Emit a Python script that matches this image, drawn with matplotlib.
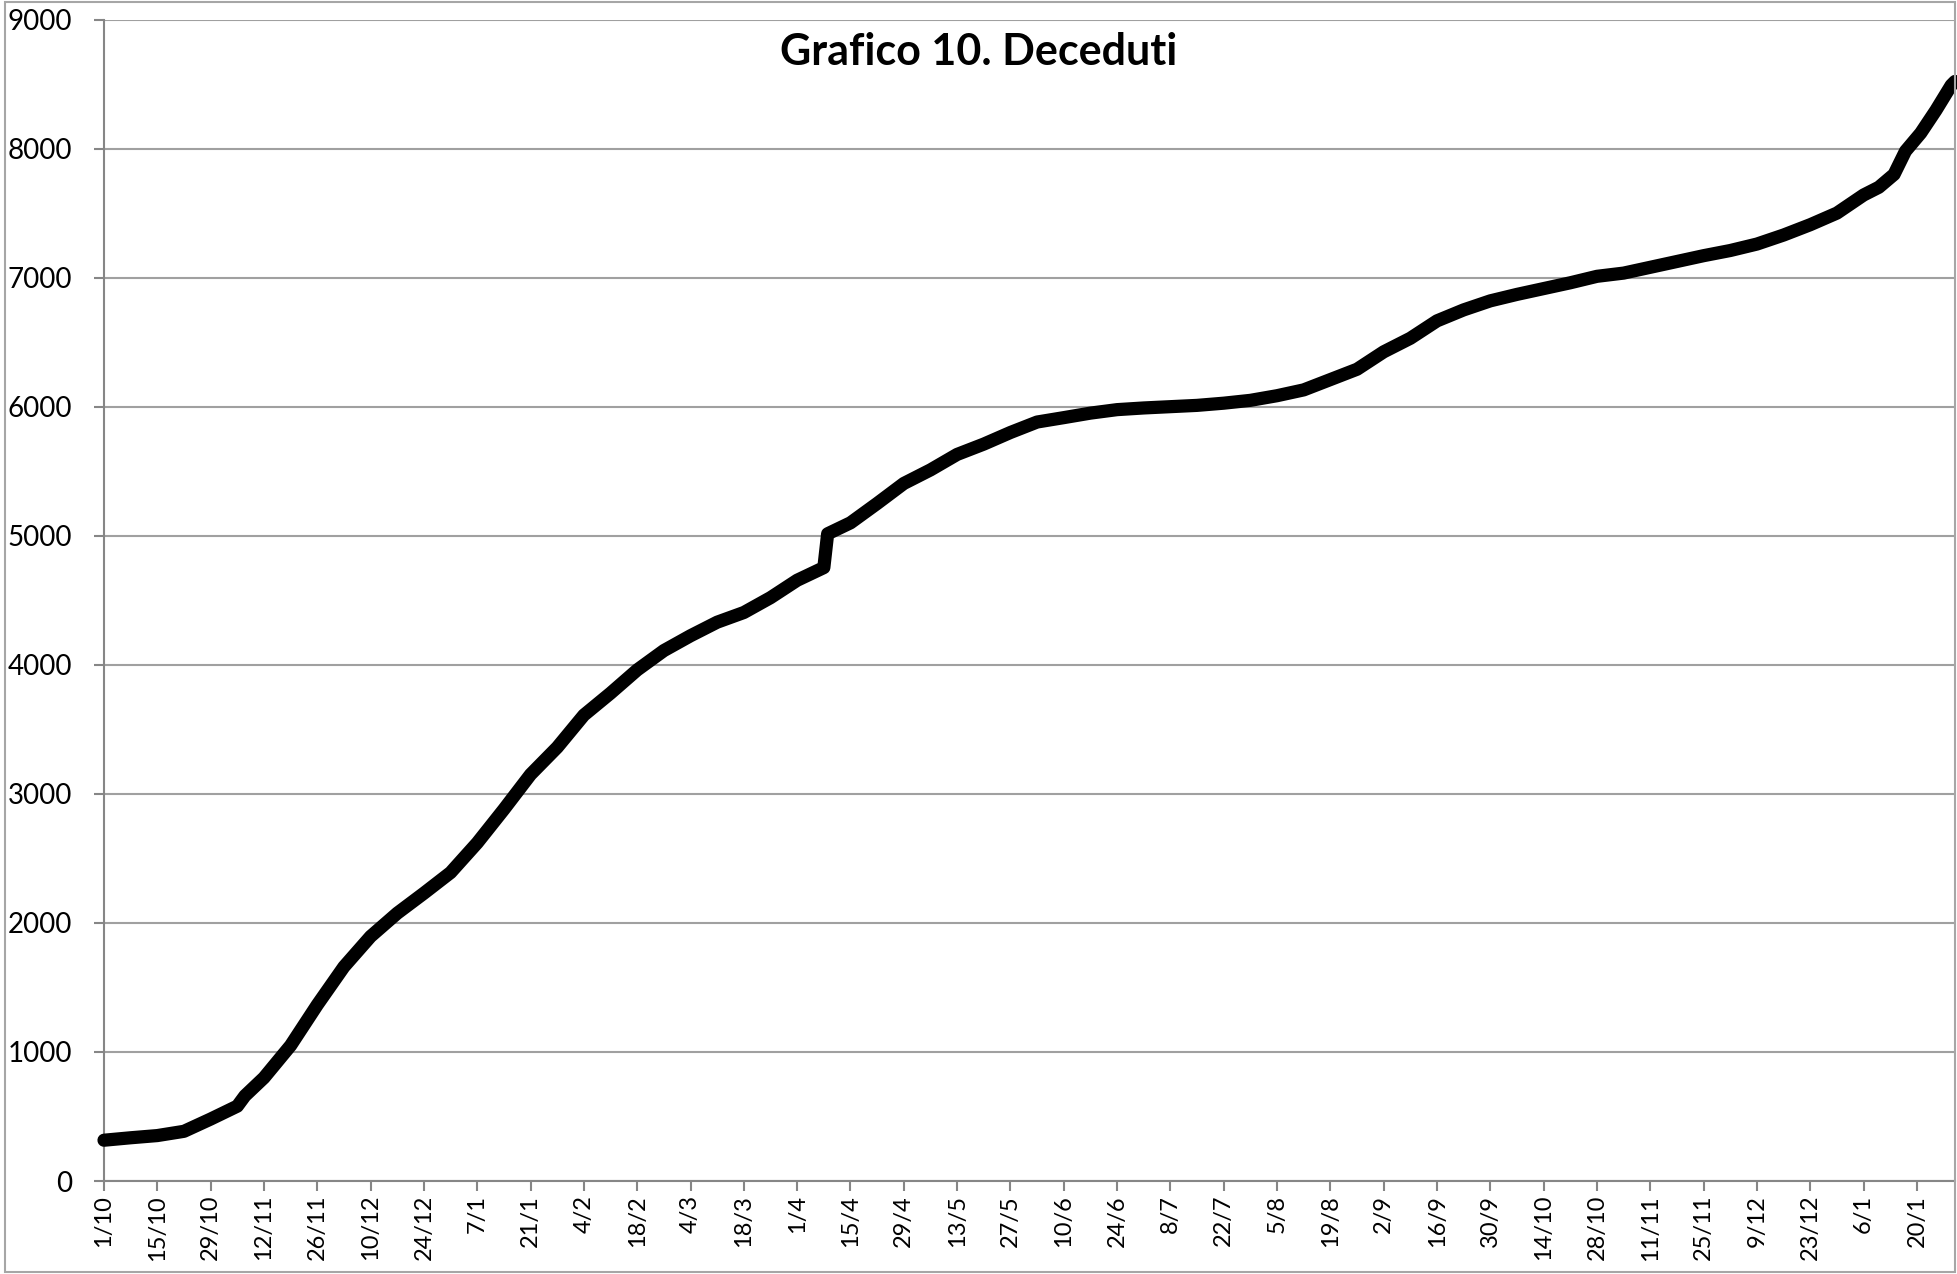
import pandas as pd
import matplotlib
matplotlib.use("Agg")
import matplotlib.pyplot as plt
from matplotlib.patches import Rectangle

plt.rcParams['font.family'] = ['Lato', 'DejaVu Sans']

# Deceduti cumulativi (1/10/2020 - 30/1/2022)
dates = [
    "2020-10-01", "2020-10-08", "2020-10-15", "2020-10-22", "2020-10-29",
    "2020-11-05", "2020-11-07", "2020-11-12", "2020-11-19", "2020-11-26",
    "2020-12-03", "2020-12-10", "2020-12-17", "2020-12-24", "2020-12-31",
    "2021-01-07", "2021-01-14", "2021-01-21", "2021-01-28", "2021-02-04",
    "2021-02-11", "2021-02-18", "2021-02-25", "2021-03-04", "2021-03-11",
    "2021-03-18", "2021-03-25", "2021-04-01", "2021-04-08", "2021-04-09",
    "2021-04-15", "2021-04-22", "2021-04-29", "2021-05-06", "2021-05-13",
    "2021-05-20", "2021-05-27", "2021-06-03", "2021-06-10", "2021-06-17",
    "2021-06-24", "2021-07-01", "2021-07-08", "2021-07-15", "2021-07-22",
    "2021-07-29", "2021-08-05", "2021-08-12", "2021-08-19", "2021-08-26",
    "2021-09-02", "2021-09-09", "2021-09-16", "2021-09-23", "2021-09-30",
    "2021-10-07", "2021-10-14", "2021-10-21", "2021-10-28", "2021-11-04",
    "2021-11-11", "2021-11-18", "2021-11-25", "2021-12-02", "2021-12-09",
    "2021-12-16", "2021-12-23", "2021-12-30", "2022-01-06", "2022-01-10",
    "2022-01-14", "2022-01-17", "2022-01-21", "2022-01-25", "2022-01-29",
    "2022-01-30",
]
deceduti = [
    316, 335, 352, 385, 480,
    580, 660, 800, 1050, 1365,
    1660, 1895, 2075, 2230, 2390,
    2620, 2880, 3150, 3360, 3610,
    3780, 3960, 4110, 4225, 4330,
    4405, 4520, 4655, 4753, 5015,
    5100, 5250, 5405, 5510, 5630,
    5710, 5800, 5881, 5915, 5950,
    5977, 5990, 6000, 6010, 6027,
    6049, 6085, 6130, 6210, 6290,
    6425, 6530, 6665, 6750, 6820,
    6870, 6915, 6960, 7010, 7035,
    7080, 7125, 7170, 7210, 7260,
    7330, 7410, 7500, 7640, 7700,
    7800, 7980, 8120, 8297, 8490,
    8520,
]
y_ticks = [0, 1000, 2000, 3000, 4000, 5000, 6000, 7000, 8000, 9000]
title = "Grafico 10. Deceduti"

x = pd.to_datetime(dates)
grey = "#a0a0a0"

fig = plt.figure(figsize=(19.57, 12.74), dpi=100)
ax = fig.add_axes([104 / 1957, 1 - 1181 / 1274, (1955 - 104) / 1957, (1181 - 19.5) / 1274])

ax.plot(x, deceduti, color="black", lw=9.5, solid_joinstyle="round",
        solid_capstyle="round", zorder=3, clip_on=False)

# asse x: etichette ogni 14 giorni
x_ticks = pd.date_range(x[0], x[-1], freq="14D")
ax.set_xticks(x_ticks)
ax.set_xticklabels([f"{d.day}/{d.month}" for d in x_ticks], rotation=90, fontsize=17)
ax.set_xlim(x[0], x[-1])

ax.set_ylim(0, 9000)
ax.set_yticks(y_ticks)
ax.set_yticklabels([str(v) for v in y_ticks], fontsize=20)

ax.grid(axis="y", color=grey, lw=1.5)
ax.set_axisbelow(True)
for s in ["top", "right"]:
    ax.spines[s].set_visible(False)
for s in ["left", "bottom"]:
    ax.spines[s].set_color("#868686")
    ax.spines[s].set_linewidth(1.5)
ax.tick_params(axis="y", length=7, width=1.5, color="#868686", pad=16)
ax.tick_params(axis="x", length=7, width=1.5, color="#868686", pad=3)

fig.text(0.5, 1 - 52 / 1274, title, ha="center", va="center",
         fontsize=31, fontweight="bold")

# bordo dell'area del grafico
fig.patches.append(Rectangle((5 / 1957, 2 / 1274), 1950 / 1957, 1270 / 1274,
                             transform=fig.transFigure, fill=False,
                             edgecolor="#a6a6a6", lw=1.5))

fig.savefig("out.png", dpi=100)
